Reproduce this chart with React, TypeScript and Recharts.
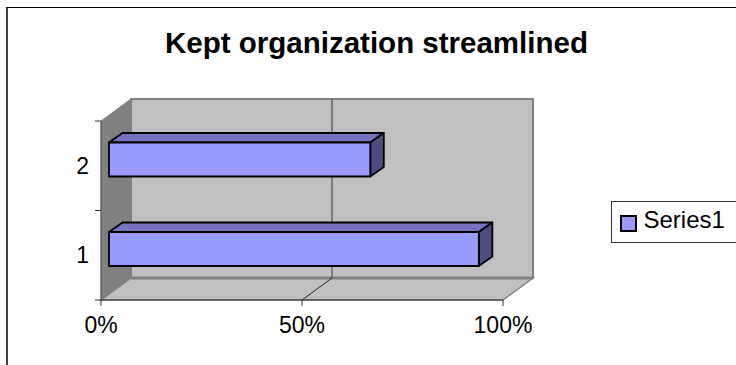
import { BarChart, Bar, XAxis, YAxis, Legend, usePlotArea } from "recharts";

const categories = ["1", "2"];
const seriesValues = [92, 65];
const percentTicks = [0, 50, 100];
const seriesName = "Series1";
const chartTitle = "Kept organization streamlined";

const tableData = categories.map((name, i) => ({ name, value: seriesValues[i] }));

const FONT = "'Liberation Sans', Arial, sans-serif";
// offset of the back wall from the front edge of the box
const WALL_DX = 30;
const WALL_DY = -22;
// bars stand part way into the box, and have a little depth of their own
const BAR_SHIFT_X = 8;
const BAR_SHIFT_Y = -6.5;
const BAR_DX = 13.5;
const BAR_DY = -9.5;

const pts = (list: number[][]) => list.map((p) => p.join(",")).join(" ");

// Back wall, side wall, floor and gridlines of the fake 3D box
function Walls() {
  const plot = usePlotArea();
  if (!plot) return null;
  const left = plot.x;
  const right = plot.x + plot.width;
  const top = plot.y;
  const bottom = plot.y + plot.height;
  const backY = bottom + WALL_DY;
  const wallTop = top + WALL_DY;

  return (
    <g>
      <rect
        x={left + WALL_DX}
        y={wallTop}
        width={plot.width}
        height={plot.height}
        fill="#c0c0c0"
        stroke="#808080"
        strokeWidth={2}
      />
      <polygon
        points={pts([
          [left, top],
          [left + WALL_DX, wallTop],
          [left + WALL_DX, backY],
          [left, bottom],
        ])}
        fill="#808080"
        stroke="#808080"
      />
      <polygon
        points={pts([
          [left, bottom],
          [left + WALL_DX, backY],
          [right + WALL_DX, backY],
          [right, bottom],
        ])}
        fill="#c0c0c0"
        stroke="#808080"
        strokeWidth={1.5}
      />
      <line x1={left + WALL_DX} y1={backY} x2={right + WALL_DX} y2={backY} stroke="#808080" strokeWidth={3} />
      {percentTicks.slice(1, -1).map((t) => {
        const x = left + (plot.width * t) / 100;
        return (
          <g key={t}>
            <line x1={x + WALL_DX} y1={wallTop} x2={x + WALL_DX} y2={backY} stroke="#666666" strokeWidth={1.5} />
            <line x1={x} y1={bottom} x2={x + WALL_DX} y2={backY} stroke="#222222" />
          </g>
        );
      })}
      {[0, 1, 2].map((i) => {
        const y = top + (plot.height * i) / categories.length;
        return <line key={i} x1={left - 6} y1={y} x2={left} y2={y} stroke="#333333" />;
      })}
    </g>
  );
}

function Bar3D(props: any) {
  const { x, y, width, height } = props;
  const fx = x + BAR_SHIFT_X;
  const fy = y + BAR_SHIFT_Y;
  const rx = fx + width;
  const by = fy + height;
  return (
    <g stroke="#000000" strokeWidth={1.8} strokeLinejoin="round">
      <polygon
        points={pts([
          [fx, fy],
          [fx + BAR_DX, fy + BAR_DY],
          [rx + BAR_DX, fy + BAR_DY],
          [rx, fy],
        ])}
        fill="#7373bf"
      />
      <polygon
        points={pts([
          [rx, fy],
          [rx + BAR_DX, fy + BAR_DY],
          [rx + BAR_DX, by + BAR_DY],
          [rx, by],
        ])}
        fill="#4d4d80"
      />
      <rect x={fx} y={fy} width={width} height={height} fill="#9999ff" />
    </g>
  );
}

function LegendBox() {
  return (
    <div
      style={{
        position: "relative",
        width: 125,
        height: 42,
        boxSizing: "border-box",
        borderLeft: "1.5px solid #333",
        borderTop: "1.5px solid #333",
        borderBottom: "1.5px solid #333",
        background: "#fff",
        fontFamily: FONT,
        fontSize: 24,
        color: "#000",
      }}
    >
      <div
        style={{
          position: "absolute",
          left: 8,
          top: 13,
          width: 13,
          height: 13,
          background: "#9999ff",
          border: "2px solid #000",
        }}
      />
      <div style={{ position: "absolute", left: 31.5, top: 0, lineHeight: "36px", whiteSpace: "nowrap" }}>
        {seriesName}
      </div>
    </div>
  );
}

export default function App() {
  return (
    <div style={{ position: "absolute", left: 0, top: 0, width: 736, height: 365, background: "#fff", overflow: "hidden" }}>
      <div
        style={{
          position: "absolute",
          left: 6,
          top: 7,
          width: 730,
          height: 358,
          boxSizing: "border-box",
          borderLeft: "2px solid #404040",
          borderTop: "1.5px solid #000",
        }}
      />
      <div style={{ position: "absolute", left: 0, top: 0 }}>
        <BarChart
          width={736}
          height={365}
          data={tableData}
          layout="vertical"
          margin={{ top: 121, right: 233, bottom: 25, left: 61 }}
          barSize={34}
        >
          <Walls />
          <XAxis
            type="number"
            domain={[0, 100]}
            ticks={percentTicks}
            tickFormatter={(v: number) => `${v}%`}
            height={40}
            tickSize={6}
            tickMargin={11}
            interval={0}
            stroke="#333333"
            tick={{ fill: "#000", fontSize: 23, fontFamily: FONT }}
          />
          <YAxis
            type="category"
            dataKey="name"
            reversed
            width={40}
            tickLine={false}
            tickMargin={6}
            stroke="#555555"
            tick={{ fill: "#000", fontSize: 23, fontFamily: FONT }}
          />
          <Legend
            layout="horizontal"
            verticalAlign="middle"
            content={<LegendBox />}
            wrapperStyle={{ position: "absolute", left: 611, top: 201, width: 125, height: 42 }}
          />
          <Bar dataKey="value" name={seriesName} isAnimationActive={false} shape={<Bar3D />} />
          <text x={376.5} y={53} textAnchor="middle" fontFamily={FONT} fontWeight="bold" fontSize={29.5} fill="#000">
            {chartTitle}
          </text>
        </BarChart>
      </div>
    </div>
  );
}
